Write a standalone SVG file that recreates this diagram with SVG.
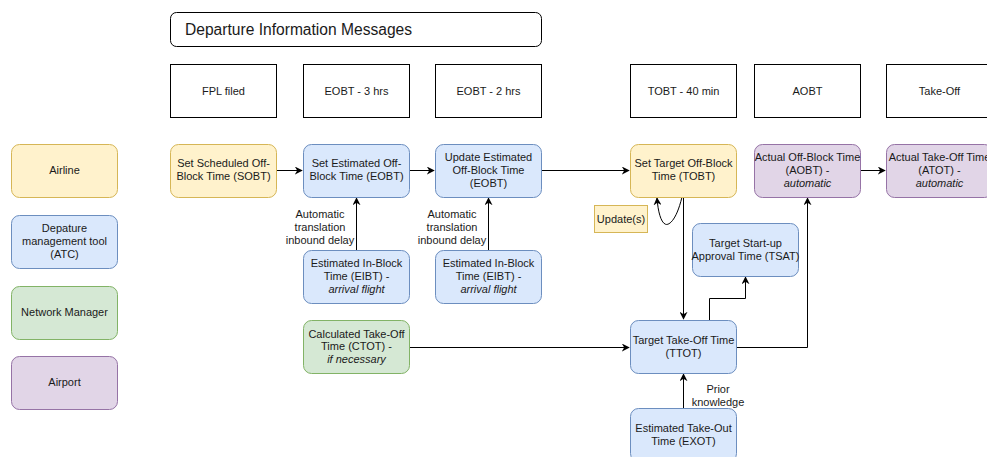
<svg xmlns="http://www.w3.org/2000/svg" width="987" height="457" viewBox="0 0 987 457">
<defs>
<marker id="arr" viewBox="0 0 10 10" refX="9" refY="5" markerWidth="8" markerHeight="8" markerUnits="userSpaceOnUse" orient="auto">
<path d="M0,0 L10,5 L0,10 L3,5 Z" fill="#000"/>
</marker>
<style>
text{font-family:"Liberation Sans",Arial,Helvetica,sans-serif;font-size:11px;fill:#1a1a1a;text-anchor:middle}
.hdr{fill:#fff;stroke:#000;stroke-width:1}
.y{fill:#fff2cc;stroke:#d6b656}
.b{fill:#dae8fc;stroke:#6c8ebf}
.g{fill:#d5e8d4;stroke:#82b366}
.p{fill:#e1d5e7;stroke:#9673a6}
.c{fill:none;stroke:#000;stroke-width:1}
.i{font-style:italic}
</style>
</defs>
<rect width="987" height="457" fill="#fff"/>
<g id="title">
<rect x="170.5" y="12.5" width="371" height="34" rx="6" class="hdr"/>
<text x="185" y="34.5" style="font-size:15.6px;text-anchor:start">Departure Information Messages</text>
</g>
<g id="h-fpl"><rect x="170.5" y="64.5" width="106" height="53" class="hdr"/><text x="223.5" y="95">FPL filed</text></g>
<g id="h-eobt3"><rect x="303.5" y="64.5" width="106" height="53" class="hdr"/><text x="356.5" y="95">EOBT - 3 hrs</text></g>
<g id="h-eobt2"><rect x="435.5" y="64.5" width="106" height="53" class="hdr"/><text x="488.5" y="95">EOBT - 2 hrs</text></g>
<g id="h-tobt"><rect x="630.5" y="64.5" width="106" height="53" class="hdr"/><text x="683.5" y="95">TOBT - 40 min</text></g>
<g id="h-aobt"><rect x="754.5" y="64.5" width="106" height="53" class="hdr"/><text x="807.5" y="95">AOBT</text></g>
<g id="h-takeoff"><rect x="886.5" y="64.5" width="106" height="53" class="hdr"/><text x="939.5" y="95">Take-Off</text></g>

<g id="leg-airline"><rect x="11.5" y="144.5" width="106" height="53" rx="8" class="y"/><text x="64.5" y="174">Airline</text></g>
<g id="leg-atc"><rect x="11.5" y="215.5" width="106" height="53" rx="8" class="b"/><text x="64.5" y="232">Depature</text><text x="64.5" y="245">management tool</text><text x="64.5" y="258">(ATC)</text></g>
<g id="leg-nm"><rect x="11.5" y="286.5" width="106" height="53" rx="8" class="g"/><text x="64.5" y="316">Network Manager</text></g>
<g id="leg-airport"><rect x="11.5" y="356.5" width="106" height="53" rx="8" class="p"/><text x="64.5" y="386">Airport</text></g>

<g id="connectors">
<path d="M277,170.5 H302" class="c" marker-end="url(#arr)"/>
<path d="M409,170.5 H434" class="c" marker-end="url(#arr)"/>
<path d="M541,170.5 H629" class="c" marker-end="url(#arr)"/>
<path d="M860,170.5 H885" class="c" marker-end="url(#arr)"/>
<path d="M356.5,250 V198" class="c" marker-end="url(#arr)"/>
<path d="M488.5,250 V198" class="c" marker-end="url(#arr)"/>
<path d="M683.5,197 V319" class="c" marker-end="url(#arr)"/>
<path d="M682,197 C676,222 668,226 665,224 C661,222 658,212 657,198" class="c" marker-end="url(#arr)"/>
<path d="M709.5,320 V298.5 H745.5 V277" class="c" marker-end="url(#arr)"/>
<path d="M736,347.5 H807.5 V198" class="c" marker-end="url(#arr)"/>
<path d="M409,347.5 H629" class="c" marker-end="url(#arr)"/>
<path d="M683.5,408 V374" class="c" marker-end="url(#arr)"/>
<g id="lbl-auto1"><rect x="286" y="206" width="68" height="40" fill="#fff"/><text x="320" y="218">Automatic</text><text x="320" y="231">translation</text><text x="320" y="244">inbound delay</text></g>
<g id="lbl-auto2"><rect x="418" y="206" width="68" height="40" fill="#fff"/><text x="452" y="218">Automatic</text><text x="452" y="231">translation</text><text x="452" y="244">inbound delay</text></g>
<g id="lbl-prior"><text x="718" y="393">Prior</text><text x="718" y="406">knowledge</text></g>
</g>

<g id="n-sobt"><rect x="170.5" y="144.5" width="106" height="53" rx="8" class="y"/><text x="223.5" y="167">Set Scheduled Off-</text><text x="223.5" y="180">Block Time (SOBT)</text></g>
<g id="n-eobt"><rect x="303.5" y="144.5" width="106" height="53" rx="8" class="b"/><text x="356.5" y="167">Set Estimated Off-</text><text x="356.5" y="180">Block Time (EOBT)</text></g>
<g id="n-ueobt"><rect x="435.5" y="144.5" width="106" height="53" rx="8" class="b"/><text x="488.5" y="161">Update Estimated</text><text x="488.5" y="174">Off-Block Time</text><text x="488.5" y="187">(EOBT)</text></g>
<g id="n-tobt"><rect x="630.5" y="144.5" width="106" height="53" rx="8" class="y"/><text x="683.5" y="167">Set Target Off-Block</text><text x="683.5" y="180">Time (TOBT)</text></g>
<g id="n-aobt"><rect x="754.5" y="144.5" width="106" height="53" rx="8" class="p"/><text x="807.5" y="161">Actual Off-Block Time</text><text x="807.5" y="174">(AOBT) -</text><text x="807.5" y="187" class="i">automatic</text></g>
<g id="n-atot"><rect x="886.5" y="144.5" width="106" height="53" rx="8" class="p"/><text x="939.5" y="161">Actual Take-Off Time</text><text x="939.5" y="174">(ATOT) -</text><text x="939.5" y="187" class="i">automatic</text></g>
<g id="n-update"><rect x="594.5" y="205.5" width="53" height="27" class="y"/><text x="621" y="223">Update(s)</text></g>
<g id="n-eibt1"><rect x="303.5" y="250.5" width="106" height="53" rx="8" class="b"/><text x="356.5" y="267">Estimated In-Block</text><text x="356.5" y="280">Time (EIBT) -</text><text x="356.5" y="293" class="i">arrival flight</text></g>
<g id="n-eibt2"><rect x="435.5" y="250.5" width="106" height="53" rx="8" class="b"/><text x="488.5" y="267">Estimated In-Block</text><text x="488.5" y="280">Time (EIBT) -</text><text x="488.5" y="293" class="i">arrival flight</text></g>
<g id="n-tsat"><rect x="692.5" y="223.5" width="106" height="53" rx="8" class="b"/><text x="745.5" y="247">Target Start-up</text><text x="745.5" y="260">Approval Time (TSAT)</text></g>
<g id="n-ctot"><rect x="303.5" y="320.5" width="106" height="53" rx="8" class="g"/><text x="356.5" y="338">Calculated Take-Off</text><text x="356.5" y="350">Time (CTOT) -</text><text x="356.5" y="363" class="i">if necessary</text></g>
<g id="n-ttot"><rect x="630.5" y="320.5" width="106" height="53" rx="8" class="b"/><text x="683.5" y="344">Target Take-Off Time</text><text x="683.5" y="357">(TTOT)</text></g>
<g id="n-exot"><rect x="630.5" y="408.5" width="106" height="53" rx="8" class="b"/><text x="683.5" y="432">Estimated Take-Out</text><text x="683.5" y="445">Time (EXOT)</text></g>
</svg>
